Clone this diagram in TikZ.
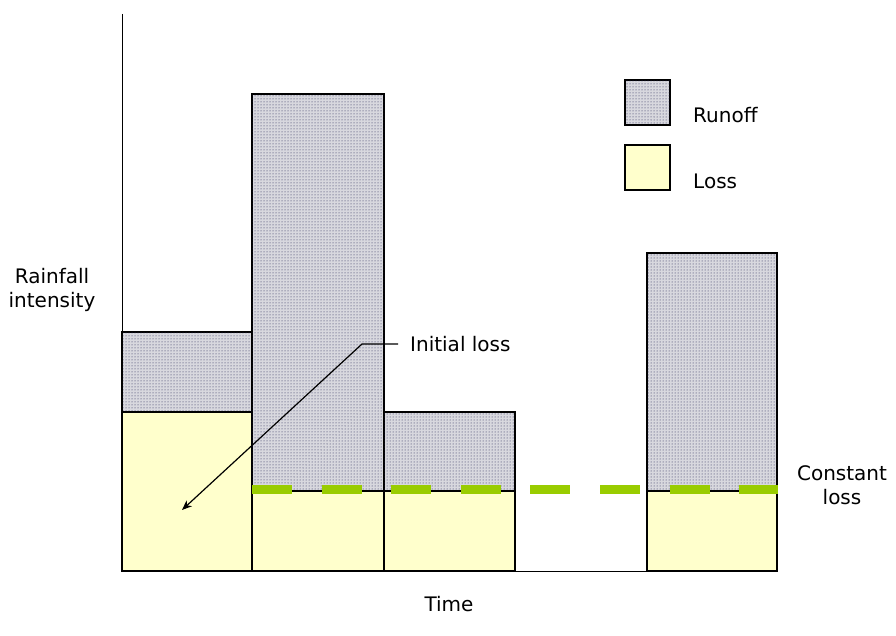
\documentclass[tikz,border=0pt]{standalone}
\usepackage{fontspec}
\setmainfont{DejaVu Sans}
\usetikzlibrary{patterns,arrows.meta}
\definecolor{lossfill}{HTML}{FFFFCC}
\definecolor{dotcol}{HTML}{202050}
\definecolor{runbg}{HTML}{D8D8DE}
\definecolor{dashgreen}{HTML}{99CC00}
\tikzset{
  runoff/.style={draw=black, line width=1.3pt, fill=runbg, postaction={pattern=dots, pattern color=dotcol}},
  loss/.style={draw=black, line width=1.3pt, fill=lossfill},
  lbl/.style={font=\fontsize{20}{23}\selectfont, inner sep=0pt},
}
\begin{document}
\begin{tikzpicture}[x=1pt,y=-1pt]
\useasboundingbox (0,0) rectangle (896,636);
% bars
\draw[runoff] (122,332) rectangle (252,412);
\draw[loss] (122,412) rectangle (252,571);
\draw[runoff] (252,94) rectangle (384,491);
\draw[loss] (252,491) rectangle (384,571);
\draw[runoff] (384,412) rectangle (515,491);
\draw[loss] (384,491) rectangle (515,571);
\draw[runoff] (647,253) rectangle (777,491);
\draw[loss] (647,491) rectangle (777,571);
% axes
\coordinate (ytop) at (122,14);
\coordinate (origin) at (122,571);
\coordinate (xend) at (647,571);
\draw[line width=1pt] (ytop) -- (origin) -- (xend);
% constant loss dashes
\coordinate (d0) at (252,489);
\coordinate (d1) at (778,489);
\draw[dashgreen, line width=9pt, dash pattern=on 40pt off 29.6pt] (d0) -- (d1);
% legend
\draw[runoff] (625,80) rectangle (670,125);
\draw[loss] (625,145) rectangle (670,190);
\node[lbl, anchor=west] (lr) at (693,115) {Runoff};
\node[lbl, anchor=west] (ll) at (693,181) {Loss};
% labels
\node[lbl, align=center] (ri) at (52,290) {Rainfall\\[1pt]intensity};
\node[lbl] (time) at (449,604) {Time};
\node[lbl, align=center] (cl) at (842,485) {Constant\\[1pt]loss};
\node[lbl, anchor=west] (il) at (410,344) {Initial loss};
\coordinate (knee) at (362,344);
\coordinate (tip) at (182,510);
\draw[line width=1.2pt, -{Stealth[length=10pt,width=8pt]}] ([xshift=-12pt]il.west) -- (knee) -- (tip);
\end{tikzpicture}
\end{document}
